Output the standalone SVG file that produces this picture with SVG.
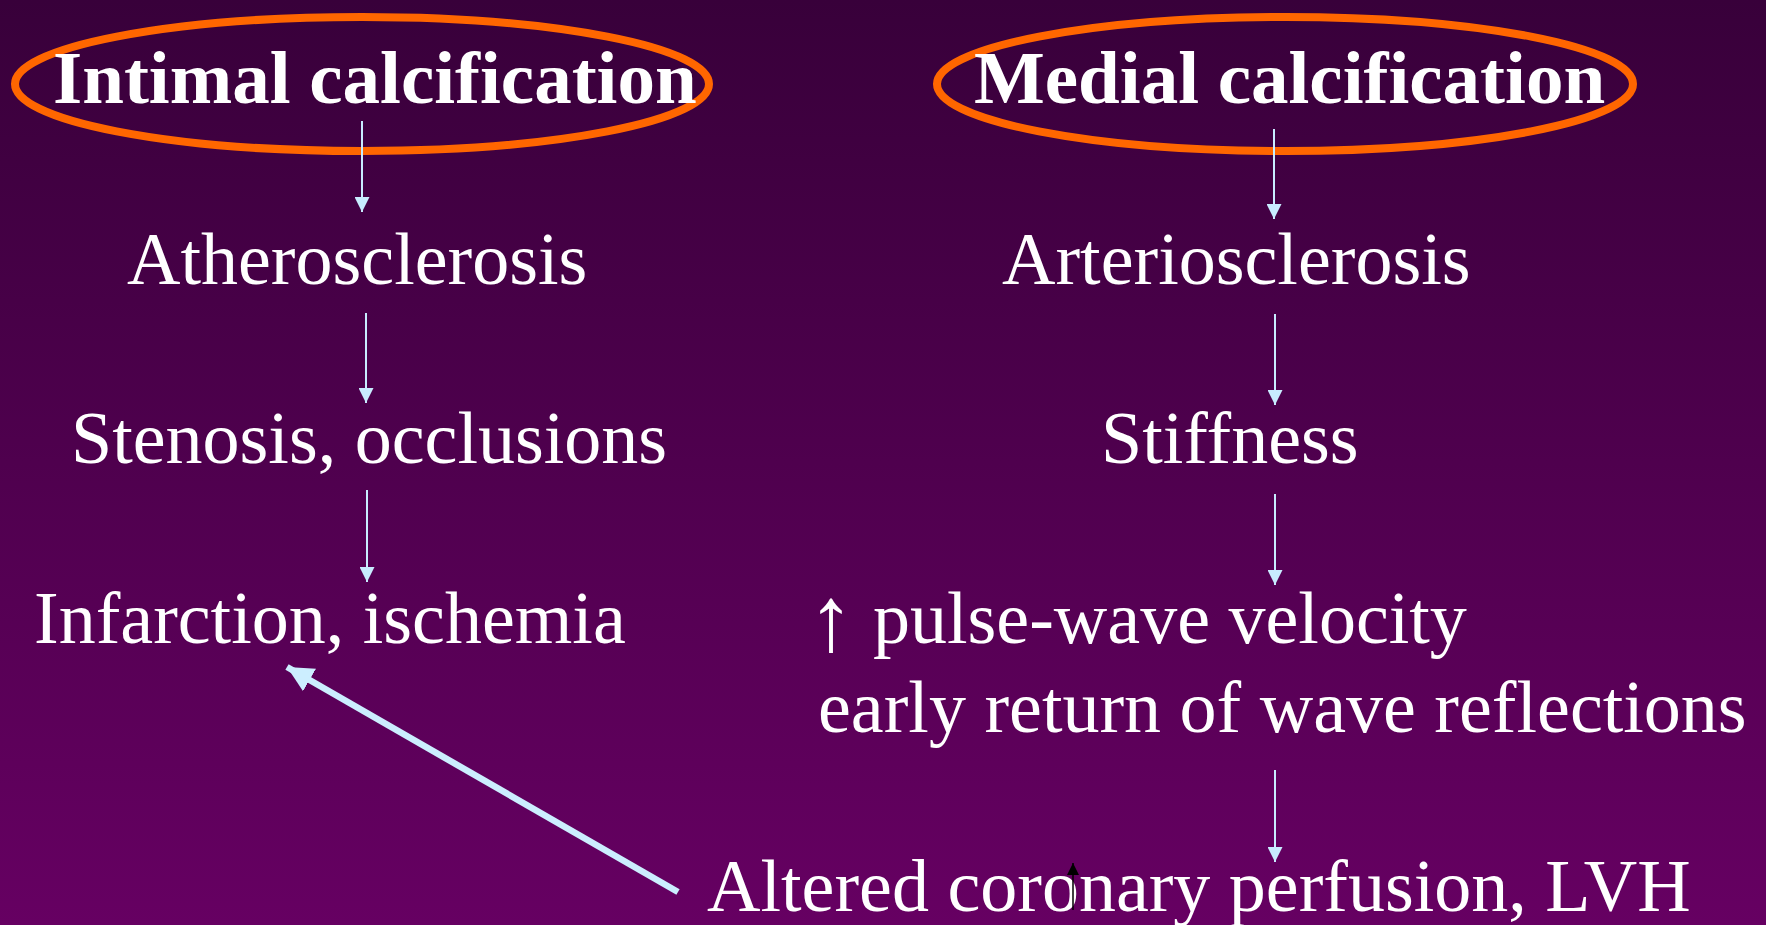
<svg xmlns="http://www.w3.org/2000/svg" width="1766" height="925" viewBox="0 0 1766 925">
<defs>
<linearGradient id="bg" x1="0" y1="0" x2="0" y2="1">
<stop offset="0" stop-color="#38003a"/>
<stop offset="1" stop-color="#660062"/>
</linearGradient>
<marker id="ah" viewBox="0 0 10 10" refX="10" refY="5" markerWidth="15" markerHeight="15" markerUnits="userSpaceOnUse" orient="auto">
<path d="M0,0 L10,5 L0,10 Z" fill="#c8ecff"/>
</marker>
<marker id="ahk" viewBox="0 0 10 10" refX="10" refY="5" markerWidth="12" markerHeight="12" markerUnits="userSpaceOnUse" orient="auto">
<path d="M0,0 L10,5 L0,10 Z" fill="#000"/>
</marker>
<marker id="ahb" viewBox="0 0 10 10" refX="10" refY="5" markerWidth="4" markerHeight="4" orient="auto">
<path d="M0,0 L10,5 L0,10 Z" fill="#cceeff"/>
</marker>
<style>
.t{font-family:"Liberation Serif","Times New Roman",serif;font-size:74px;fill:#fff}
.b{font-weight:bold;font-size:75px}
.el{fill:none;stroke:#ff6600;stroke-width:8}
.c{stroke:#c8ecff;stroke-width:2;fill:none;marker-end:url(#ah)}
</style>
</defs>
<rect width="1766" height="925" fill="url(#bg)"/>
<g id="intimal">
<ellipse class="el" cx="362" cy="84" rx="347" ry="67"/>
<text class="t b" x="53" y="103">Intimal calcification</text>
</g>
<g id="medial">
<ellipse class="el" cx="1285" cy="84" rx="348" ry="67"/>
<text class="t b" x="974" y="103">Medial calcification</text>
</g>
<g id="athero"><text class="t" x="127" y="284">Atherosclerosis</text></g>
<g id="stenosis"><text class="t" x="71" y="463">Stenosis, occlusions</text></g>
<g id="infarction"><text class="t" x="34" y="643">Infarction, ischemia</text></g>
<g id="arterio"><text class="t" x="1002" y="284">Arteriosclerosis</text></g>
<g id="stiffness"><text class="t" x="1101" y="463">Stiffness</text></g>
<g id="pwv">
<text class="t" x="831" y="650" text-anchor="middle" style="font-size:92px">↑</text>
<text class="t" x="873" y="643">pulse-wave velocity</text>
<text class="t" x="818" y="732">early return of wave reflections</text>
</g>
<g id="altered"><text class="t" x="707" y="911">Altered coronary perfusion, LVH</text></g>
<g id="connectors">
<line class="c" x1="362" y1="121" x2="362" y2="212"/>
<line class="c" x1="366" y1="313" x2="366" y2="403"/>
<line class="c" x1="367" y1="490" x2="367" y2="582"/>
<line class="c" x1="1274" y1="129" x2="1274" y2="219"/>
<line class="c" x1="1275" y1="314" x2="1275" y2="405"/>
<line class="c" x1="1275" y1="494" x2="1275" y2="585"/>
<line class="c" x1="1275" y1="770" x2="1275" y2="862"/>
<line x1="678" y1="892" x2="287" y2="667" stroke="#cceeff" stroke-width="6.5" marker-end="url(#ahb)"/>
<line x1="1073" y1="910" x2="1073" y2="863" stroke="#000" stroke-width="1.5" marker-end="url(#ahk)"/>
</g>
</svg>
